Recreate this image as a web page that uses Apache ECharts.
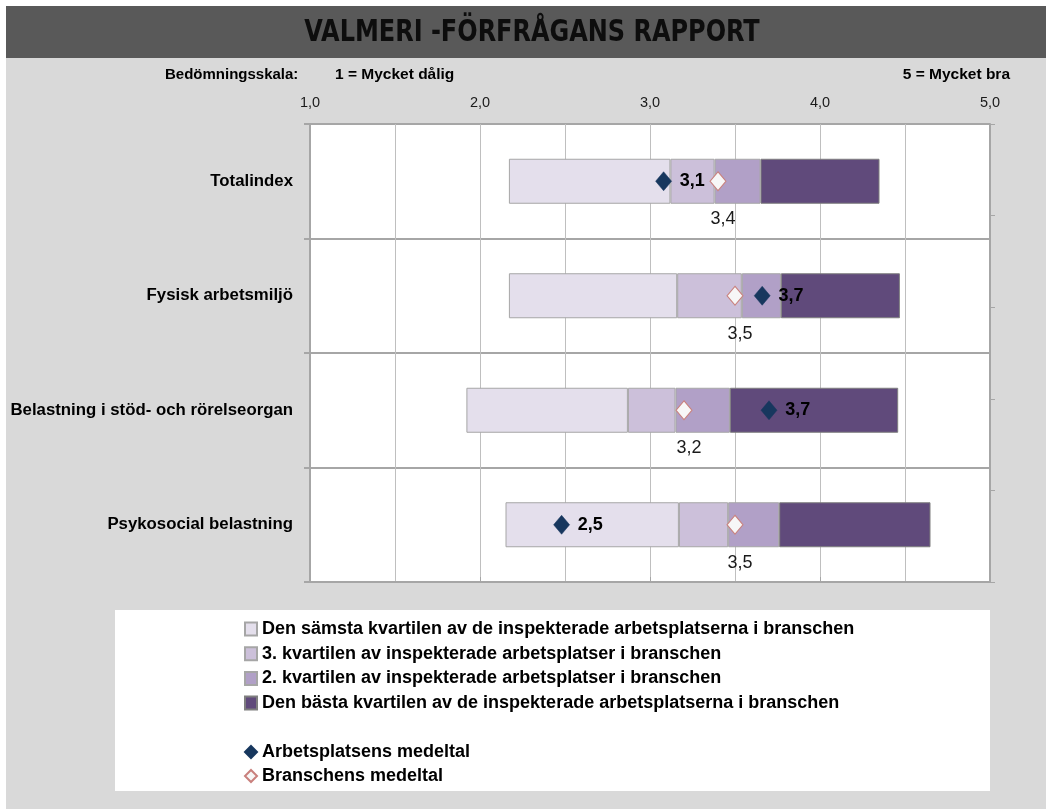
<!DOCTYPE html>
<html>
<head>
<meta charset="utf-8">
<script src="https://cdn.jsdelivr.net/npm/echarts@6/dist/echarts.min.js"></script>
<style>
  html, body { margin: 0; padding: 0; background: #fff; }
  #chart { width: 1046px; height: 809px; }
</style>
</head>
<body>
<div id="chart"></div>
<script>
var categories = ["Totalindex", "Fysisk arbetsmiljö", "Belastning i stöd- och rörelseorgan", "Psykosocial belastning"];
// kvartilgränser (start av varje segment och slut på bästa kvartilen)
var worstStart = [2.17, 2.17, 1.92, 2.15];
var thirdStart = [3.12, 3.16, 2.87, 3.17];
var secondStart = [3.38, 3.54, 3.15, 3.46];
var bestStart = [3.65, 3.77, 3.47, 3.76];
var bestEnd = [4.35, 4.47, 4.46, 4.65];
var workplaceMean = [3.08, 3.66, 3.70, 2.48];
var industryMean = [3.40, 3.50, 3.20, 3.50];
var xTicks = [1, 2, 3, 4, 5];

var barNames = [
  "Den sämsta kvartilen av de inspekterade arbetsplatserna i branschen",
  "3. kvartilen av inspekterade arbetsplatser i branschen",
  "2. kvartilen av inspekterade arbetsplatser i branschen",
  "Den bästa kvartilen av de inspekterade arbetsplatserna i branschen"
];
var barColors = ["#e4dfec", "#ccc0da", "#b1a0c7", "#604a7b"];
var pointNames = ["Arbetsplatsens medeltal", "Branschens medeltal"];

var FONT = "'Liberation Sans', Arial, sans-serif";
var NARROW = "'DejaVu Sans Condensed', sans-serif";

function comma(v) {
  return v.toFixed(1).replace(".", ",");
}
function diff(a, b) {
  return a.map(function (v, i) { return +(b[i] - v).toFixed(3); });
}

var bounds = [worstStart, thirdStart, secondStart, bestStart, bestEnd];
var series = [{
  type: "bar",
  stack: "q",
  barWidth: 45,
  silent: true,
  itemStyle: { color: "transparent" },
  data: worstStart
}];
for (var i = 0; i < 4; i++) {
  series.push({
    name: barNames[i],
    type: "bar",
    stack: "q",
    barWidth: 45,
    itemStyle: { color: barColors[i], borderColor: i == 3 ? "#7f7f7f" : "#a6a6a6", borderWidth: 1 },
    data: diff(bounds[i], bounds[i + 1])
  });
}
series.push({
  name: pointNames[0],
  type: "scatter",
  symbol: "diamond",
  symbolSize: [16, 19],
  z: 5,
  itemStyle: { color: "#17375e", borderColor: "#17375e", borderWidth: 0.5, opacity: 1 },
  label: {
    show: true, position: "right", distance: 8,
    formatter: function (p) { return comma(p.value[0]); },
    fontFamily: FONT, fontWeight: "bold", fontSize: 18, color: "#000"
  },
  data: workplaceMean.map(function (v, i) { return [v, categories[i]]; })
});
series.push({
  name: pointNames[1],
  type: "scatter",
  symbol: "diamond",
  symbolSize: [16, 19],
  z: 5,
  itemStyle: { color: "#f7f7f7", borderColor: "#c9807d", borderWidth: 1, opacity: 1 },
  label: {
    show: true, position: "bottom", distance: 19, offset: [5, 0],
    formatter: function (p) { return comma(p.value[0]); },
    fontFamily: FONT, fontSize: 18, color: "#1a1a1a"
  },
  data: industryMean.map(function (v, i) { return [v, categories[i]]; })
});

var myChart = echarts.init(document.getElementById("chart"));
var option = {
  animation: false,
  backgroundColor: "#fff",
  graphic: [
    { type: "rect", z: -10, shape: { x: 6, y: 58, width: 1040, height: 751 }, style: { fill: "#d9d9d9" } },
    { type: "rect", z: -10, shape: { x: 6, y: 6, width: 1040, height: 52 }, style: { fill: "#595959" } },
    { type: "rect", z: -10, shape: { x: 115, y: 610, width: 875, height: 181 }, style: { fill: "#fff" } },
    { type: "text", x: 532, y: 33, scaleX: 0.86, style: { text: "VALMERI -FÖRFRÅGANS RAPPORT", fill: "#0d0d0d", font: "bold 31px " + NARROW, textAlign: "center", textVerticalAlign: "middle" } },
    { type: "text", x: 165, y: 75, style: { text: "Bedömningsskala:", fill: "#000", font: "bold 15px " + FONT, textVerticalAlign: "middle" } },
    { type: "text", x: 335, y: 75, style: { text: "1 = Mycket dålig", fill: "#000", font: "bold 15.5px " + FONT, textVerticalAlign: "middle" } },
    { type: "text", x: 1010, y: 75, style: { text: "5 = Mycket bra", fill: "#000", font: "bold 15.5px " + FONT, textAlign: "right", textVerticalAlign: "middle" } }
  ],
  grid: {
    left: 310, right: 56, top: 124, bottom: 227,
    show: true, backgroundColor: "#fff", borderWidth: 0
  },
  legend: [{
    data: barNames,
    orient: "vertical",
    left: 244, top: 620, padding: 0,
    itemWidth: 12, itemHeight: 13, itemGap: 6.7,
    icon: "rect",
    textStyle: { fontFamily: FONT, fontWeight: "bold", fontSize: 18, color: "#000", lineHeight: 18 }
  }, {
    data: pointNames,
    orient: "vertical",
    left: 244, top: 743, padding: 0,
    itemWidth: 12, itemHeight: 12, itemGap: 6,
    textStyle: { fontFamily: FONT, fontWeight: "bold", fontSize: 18, color: "#000", lineHeight: 18 }
  }],
  xAxis: {
    type: "value",
    position: "top",
    min: xTicks[0], max: xTicks[xTicks.length - 1], interval: 1,
    axisLine: { show: true, lineStyle: { color: "#a6a6a6", width: 2 } },
    axisTick: { show: true, length: 5, lineStyle: { color: "#a6a6a6" } },
    axisLabel: { margin: 14, fontFamily: FONT, fontSize: 14.5, color: "#1a1a1a", formatter: comma },
    splitLine: { show: true, lineStyle: { color: "#bfbfbf", width: 1 } },
    minorTick: { show: false, splitNumber: 2 },
    minorSplitLine: { show: true, lineStyle: { color: "#bfbfbf", width: 1 } }
  },
  yAxis: [{
    type: "category",
    inverse: true,
    data: categories,
    axisLine: { show: true, lineStyle: { color: "#a6a6a6", width: 2 } },
    axisTick: { show: true, length: 6, lineStyle: { color: "#a6a6a6", width: 2 } },
    axisLabel: { margin: 17, fontFamily: FONT, fontWeight: "bold", fontSize: 16.8, color: "#000" },
    splitLine: { show: true, lineStyle: { color: "#a6a6a6", width: 2 } }
  }, {
    type: "value",
    position: "right",
    min: 0, max: 5, interval: 1,
    axisLine: { show: true, lineStyle: { color: "#a6a6a6", width: 2 } },
    axisTick: { show: true, length: 5, lineStyle: { color: "#a6a6a6" } },
    axisLabel: { show: false },
    splitLine: { show: false }
  }],
  series: series
};
myChart.setOption(option);
</script>
</body>
</html>
